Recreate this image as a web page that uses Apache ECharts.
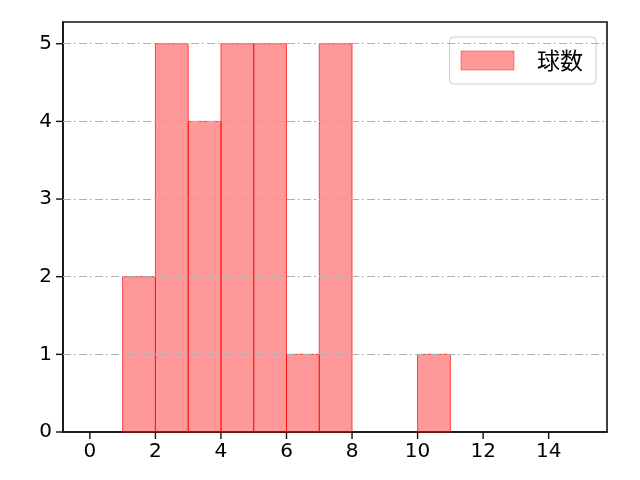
<!DOCTYPE html>
<html>
<head>
<meta charset="utf-8">
<script src="https://cdn.jsdelivr.net/npm/echarts@6/dist/echarts.min.js"></script>
<style>
  html, body { margin: 0; padding: 0; background: #fff; }
  #chart { width: 640px; height: 480px; }
</style>
</head>
<body>
<div id="chart"></div>
<script>
// histogram bins (left edge, right edge) and counts
const binStarts = [1, 2, 3, 4, 5, 6, 7, 10]
const binEnds = [2, 3, 4, 5, 6, 7, 8, 11]
const counts = [2, 5, 4, 5, 5, 1, 5, 1]
const seriesName = '球数'
const xTicks = [0, 2, 4, 6, 8, 10, 12, 14]
const yTicks = [0, 1, 2, 3, 4, 5]

const xMin = -0.82, xMax = 15.78, yMax = 5.28
const font = 'DejaVu Sans, "Noto Sans CJK JP", sans-serif'
const data = binStarts.map((s, i) => [s, binEnds[i], counts[i]])

// tick marks live in thin helper grids next to the plot
function tickRender(vertical) {
    return function (params, api) {
        const a = vertical ? api.coord([api.value(0), 1]) : api.coord([0, api.value(0)])
        const b = vertical ? api.coord([api.value(0), 0]) : api.coord([1, api.value(0)])
        return {
            type: 'line',
            shape: { x1: a[0], y1: a[1], x2: b[0], y2: b[1] },
            style: { stroke: '#111', lineWidth: 1.4 }
        }
    }
}
const hidden = { show: false }

const chart = echarts.init(document.getElementById('chart'))
chart.setOption({
    animation: false,
    grid: [
        { left: 63, right: 33, top: 22, bottom: 48, show: true, borderColor: '#111', borderWidth: 1.6, backgroundColor: 'transparent' },
        { left: 63, right: 33, top: 432, height: 7 },
        { left: 56, width: 7, top: 22, bottom: 48 }
    ],
    legend: {
        right: 44, top: 37,
        padding: [12, 13, 12, 11],
        itemWidth: 53, itemHeight: 19, itemGap: 10,
        borderColor: '#ccc', borderWidth: 1, borderRadius: 4,
        textStyle: { fontSize: 23, fontFamily: '"Noto Sans CJK JP", sans-serif', color: '#000', padding: [0, 0, 0, 18] },
        data: [{ name: seriesName, icon: 'rect', itemStyle: { color: 'rgba(255,0,0,0.4)', borderColor: 'rgba(255,0,0,0.4)', borderWidth: 1 } }]
    },
    xAxis: [
        {
            type: 'value', min: xMin, max: xMax, position: 'bottom',
            axisLine: { show: true, onZero: false, lineStyle: { color: '#111', width: 1.6 } },
            axisTick: { show: false },
            axisLabel: { fontSize: 20, fontFamily: font, color: '#000', margin: 10, customValues: xTicks },
            splitLine: { show: false }
        },
        { gridIndex: 1, type: 'value', min: xMin, max: xMax, axisLine: hidden, axisTick: hidden, axisLabel: hidden, splitLine: hidden },
        { gridIndex: 2, type: 'value', min: 0, max: 1, axisLine: hidden, axisTick: hidden, axisLabel: hidden, splitLine: hidden }
    ],
    yAxis: [
        {
            type: 'value', min: 0, max: yMax, interval: 1, position: 'left',
            axisLine: { show: true, onZero: false, lineStyle: { color: '#111', width: 1.6 } },
            axisTick: { show: false },
            axisLabel: { fontSize: 20, fontFamily: font, color: '#000', margin: 11, showMaxLabel: false },
            splitLine: { show: false }
        },
        { gridIndex: 1, type: 'value', min: 0, max: 1, axisLine: hidden, axisTick: hidden, axisLabel: hidden, splitLine: hidden },
        { gridIndex: 2, type: 'value', min: 0, max: yMax, axisLine: hidden, axisTick: hidden, axisLabel: hidden, splitLine: hidden }
    ],
    series: [
        {
            type: 'line', silent: true, data: [],
            markLine: {
                silent: true, symbol: 'none', label: { show: false },
                lineStyle: { color: '#b0b0b0', width: 1, type: [8, 3, 2, 3] },
                data: yTicks.filter(v => v > 0).map(v => ({ yAxis: v }))
            }
        },
        {
            type: 'custom', silent: true, xAxisIndex: 1, yAxisIndex: 1,
            renderItem: tickRender(true),
            encode: { x: 0 },
            data: xTicks.map(v => [v])
        },
        {
            type: 'custom', silent: true, xAxisIndex: 2, yAxisIndex: 2,
            renderItem: tickRender(false),
            encode: { y: 0 },
            data: yTicks.map(v => [v])
        },
        {
            name: seriesName,
            type: 'custom',
            renderItem: function (params, api) {
                const p0 = api.coord([api.value(0), 0])
                const p1 = api.coord([api.value(1), api.value(2)])
                return {
                    type: 'rect',
                    shape: { x: p0[0], y: p1[1], width: p1[0] - p0[0], height: p0[1] - p1[1] },
                    style: { fill: 'rgba(255,0,0,0.4)', stroke: 'rgba(255,0,0,0.7)', lineWidth: 1 }
                }
            },
            encode: { x: [0, 1], y: 2 },
            itemStyle: { color: 'rgba(255,0,0,0.4)' },
            data: data,
            z: 3
        }
    ]
})
</script>
</body>
</html>
